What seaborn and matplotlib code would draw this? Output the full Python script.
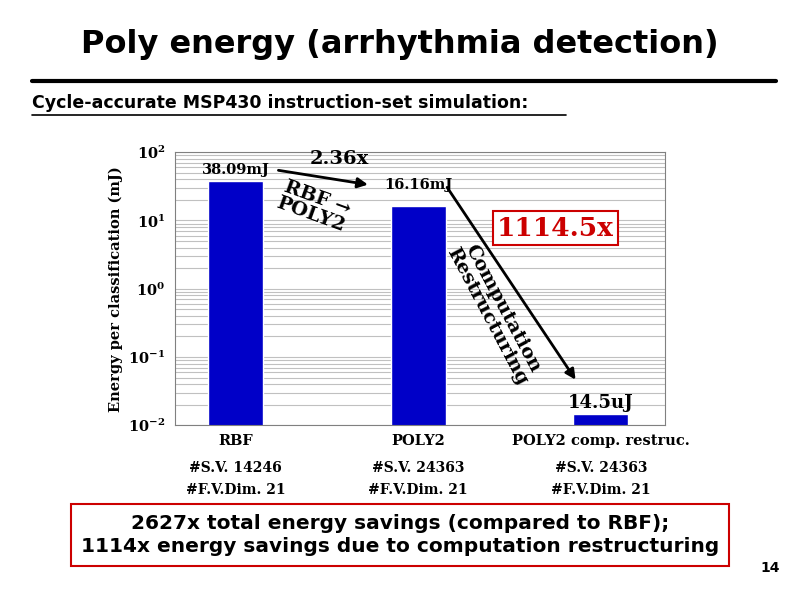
import matplotlib
matplotlib.use("Agg")
import matplotlib.pyplot as plt
import seaborn as sns
import pandas as pd

categories = ["RBF", "POLY2", "POLY2 comp. restruc."]
energy_mJ = [38.09, 16.16, 0.0145]
value_labels = ["38.09mJ", "16.16mJ", "14.5uJ"]
sv_labels = ["#S.V. 14246", "#S.V. 24363", "#S.V. 24363"]
fv_labels = ["#F.V.Dim. 21", "#F.V.Dim. 21", "#F.V.Dim. 21"]

df = pd.DataFrame({"cat": categories, "e": energy_mJ})
sns.set_style("white")
plt.rcParams["font.family"] = ["DejaVu Sans"]
plt.rcParams["text.color"] = "black"
plt.rcParams["axes.labelcolor"] = "black"
plt.rcParams["xtick.color"] = "black"
plt.rcParams["ytick.color"] = "black"
serif = "DejaVu Serif"
sans = "DejaVu Sans"

fig = plt.figure(figsize=(8, 5.99), dpi=100)
ax = fig.add_axes([0.219, 0.290, 0.612, 0.456])
sns.barplot(data=df, x="cat", y="e", color="#0000c8", width=0.3, ax=ax, saturation=1)
ax.set_yscale("log")
ax.set_ylim(0.01, 100)
ax.set_xlim(-0.33, 2.35)
ax.yaxis.grid(True, which="both", color="#c0c0c0", lw=0.8)
ax.set_axisbelow(True)
for s in ax.spines.values():
    s.set_color("#808080")
ax.set_xlabel("")
ax.set_ylabel("Energy per classification (mJ)", family=serif, weight="bold", fontsize=10.5)
ax.set_xticks([0, 1, 2])
ax.set_xticklabels(categories, family=serif, weight="bold", fontsize=10.5)
ax.tick_params(axis="x", length=0, pad=6)
for lab in ax.get_yticklabels():
    lab.set_family(serif); lab.set_weight("bold"); lab.set_fontsize(10.5)

for i in range(3):
    ax.text(i, -0.17, sv_labels[i], transform=ax.get_xaxis_transform(), ha="center",
            family=serif, weight="bold", fontsize=10)
    ax.text(i, -0.25, fv_labels[i], transform=ax.get_xaxis_transform(), ha="center",
            family=serif, weight="bold", fontsize=10)

ax.text(0, 55, value_labels[0], ha="center", va="center", family=serif, weight="bold", fontsize=10.5)
ax.text(1, 33, value_labels[1], ha="center", va="center", family=serif, weight="bold", fontsize=10.5)
ax.text(2, 0.021, value_labels[2], ha="center", va="center", family=serif, weight="bold", fontsize=13)

ax.annotate("", xy=(0.74, 33), xytext=(0.22, 55),
            arrowprops=dict(arrowstyle="-|>", color="black", lw=2, mutation_scale=15))
ax.annotate("", xy=(1.87, 0.043), xytext=(1.15, 33),
            arrowprops=dict(arrowstyle="-|>", color="black", lw=2, mutation_scale=15))
ax.text(0.57, 80, "2.36x", ha="center", va="center", family=serif, weight="bold", fontsize=14)
ax.text(0.43, 16, "RBF \u2192\nPOLY2", ha="center", va="center", rotation=-20,
        family=serif, weight="bold", fontsize=14, linespacing=1.0)
ax.text(1.42, 0.45, "Computation\nRestructuring", ha="center", va="center", rotation=-62,
        family=serif, weight="bold", fontsize=14, linespacing=1.0)
ax.text(1.75, 7.7, "1114.5x", ha="center", va="center", color="#cc0000",
        family=serif, weight="bold", fontsize=19,
        bbox=dict(facecolor="white", edgecolor="#cc0000", lw=1.5, pad=3))

fig.text(0.5, 0.925, "Poly energy (arrhythmia detection)", ha="center", va="center",
         family=sans, weight="bold", fontsize=23)
fig.add_artist(plt.Line2D([0.04, 0.97], [0.865, 0.865], color="black", lw=3))
fig.text(0.04, 0.828, "Cycle-accurate MSP430 instruction-set simulation:", ha="left", va="center",
         family=sans, weight="bold", fontsize=12.5)
fig.add_artist(plt.Line2D([0.04, 0.708], [0.808, 0.808], color="black", lw=1.2))
fig.text(0.5, 0.107, "2627x total energy savings (compared to RBF);\n"
         "1114x energy savings due to computation restructuring",
         ha="center", va="center", family=sans, weight="bold", fontsize=14.5, linespacing=1.3,
         bbox=dict(facecolor="white", edgecolor="#cc0000", lw=1.5, boxstyle="square,pad=0.5"))
fig.text(0.975, 0.045, "14", ha="right", family=sans, weight="bold", fontsize=10)
fig.savefig("out.png", dpi=100)
